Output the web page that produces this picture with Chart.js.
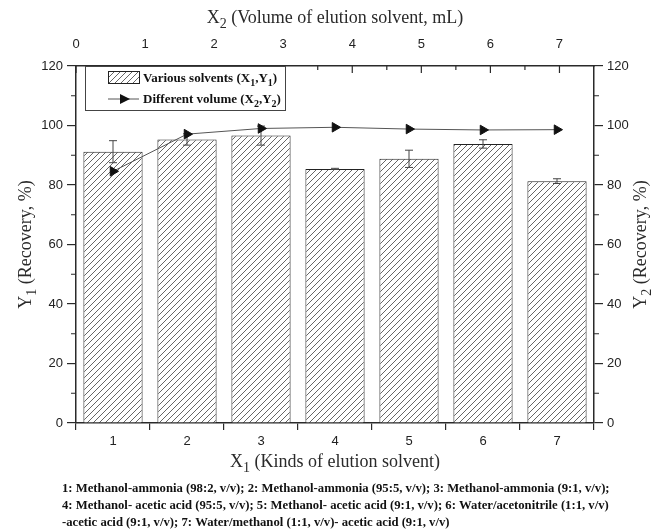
<!DOCTYPE html>
<html>
<head>
<meta charset="utf-8">
<script src="https://cdn.jsdelivr.net/npm/chart.js@4.4.1/dist/chart.umd.min.js"></script>
<style>
  html, body { margin: 0; padding: 0; background: #fff; }
  #recoveryChart { display: block; }
</style>
</head>
<body>
<canvas id="recoveryChart" width="657" height="532"></canvas>
<script>
// Chart data
const solventLabels = ["1", "2", "3", "4", "5", "6", "7"];
const solventRecovery = [91.2, 95.3, 96.6, 85.4, 88.8, 93.8, 81.3];
const solventError = [3.7, 1.9, 3.2, 0.2, 2.9, 1.4, 0.8];
const volumeRecovery = [84.6, 97.1, 99.0, 99.4, 98.8, 98.5, 98.6];
const volumeTicks = [0, 1, 2, 3, 4, 5, 6, 7];
const recoveryMinorTicks = [10, 30, 50, 70, 90, 110];
const volumeMinorTicks = [0.5, 1.5, 2.5, 3.5, 4.5, 5.5, 6.5];
const footnoteLines = [
    "1: Methanol-ammonia (98:2, v/v); 2: Methanol-ammonia (95:5, v/v); 3: Methanol-ammonia (9:1, v/v);",
    "4: Methanol- acetic acid (95:5, v/v); 5: Methanol- acetic acid (9:1, v/v); 6: Water/acetonitrile (1:1, v/v)",
    "-acetic acid (9:1, v/v); 7: Water/methanol (1:1, v/v)- acetic acid (9:1, v/v)"
];

const axisColor = "#2a2a2a";
const tickFont = { family: "Liberation Sans, Arial", size: 13 };

// Diagonal hatch fill for the bars
function makeHatch() {
    const tile = document.createElement("canvas");
    tile.width = 6;
    tile.height = 6;
    const g = tile.getContext("2d");
    g.fillStyle = "#fff";
    g.fillRect(0, 0, 6, 6);
    g.strokeStyle = "#555";
    g.lineWidth = 0.9;
    g.beginPath();
    g.moveTo(0, 6); g.lineTo(6, 0);
    g.moveTo(-3, 3); g.lineTo(3, -3);
    g.moveTo(3, 9); g.lineTo(9, 3);
    g.stroke();
    return g.createPattern(tile, "repeat");
}
const hatch = makeHatch();

// text with "_1" style subscripts, align "left" or "center"
function drawRich(ctx, text, x, y, size, bold, align) {
    const parts = text.split(/(_\d)/).filter(p => p);
    const weight = bold ? "bold " : "";
    const mainFont = weight + size + "px Liberation Serif";
    const subFont = weight + Math.round(size * 0.75) + "px Liberation Serif";
    let total = 0;
    parts.forEach(p => {
        ctx.font = p[0] === "_" ? subFont : mainFont;
        total += ctx.measureText(p[0] === "_" ? p.slice(1) : p).width;
    });
    let cx = align === "center" ? x - total / 2 : x;
    ctx.textAlign = "left";
    parts.forEach(p => {
        if (p[0] === "_") {
            ctx.font = subFont;
            ctx.fillText(p.slice(1), cx, y + size * 0.28);
            cx += ctx.measureText(p.slice(1)).width;
        } else {
            ctx.font = mainFont;
            ctx.fillText(p, cx, y);
            cx += ctx.measureText(p).width;
        }
    });
}

// Error bars on the solvent bars
const errorBars = {
    id: "errorBars",
    afterDatasetDraw(chart, args) {
        if (args.index !== 0) return;
        const ctx = chart.ctx;
        const y = chart.scales.y;
        ctx.save();
        ctx.strokeStyle = "#444";
        ctx.lineWidth = 1;
        args.meta.data.forEach((bar, i) => {
            const top = y.getPixelForValue(solventRecovery[i] + solventError[i]);
            const bot = y.getPixelForValue(solventRecovery[i] - solventError[i]);
            ctx.beginPath();
            ctx.moveTo(bar.x, top); ctx.lineTo(bar.x, bot);
            ctx.moveTo(bar.x - 4, top); ctx.lineTo(bar.x + 4, top);
            ctx.moveTo(bar.x - 4, bot); ctx.lineTo(bar.x + 4, bot);
            ctx.stroke();
        });
        ctx.restore();
    }
};

// Minor ticks, inward top ticks, legend box, axis titles and footnote
const decorations = {
    id: "decorations",
    afterDraw(chart) {
        const ctx = chart.ctx;
        const area = chart.chartArea;
        const y = chart.scales.y;
        const x2 = chart.scales.x2;
        const midX = (area.left + area.right) / 2;
        const midY = (area.top + area.bottom) / 2;
        ctx.save();
        ctx.strokeStyle = axisColor;
        ctx.lineWidth = 1.2;
        ctx.beginPath();
        recoveryMinorTicks.forEach(v => {
            const py = y.getPixelForValue(v);
            ctx.moveTo(area.left - 5, py); ctx.lineTo(area.left, py);
            ctx.moveTo(area.right, py); ctx.lineTo(area.right + 5, py);
        });
        volumeTicks.forEach(v => {
            const px = x2.getPixelForValue(v);
            ctx.moveTo(px, area.top); ctx.lineTo(px, area.top + 7);
        });
        volumeMinorTicks.forEach(v => {
            const px = x2.getPixelForValue(v);
            ctx.moveTo(px, area.top); ctx.lineTo(px, area.top + 4);
        });
        ctx.stroke();

        // legend
        const lx = 85, ly = area.top, lw = 200, lh = 44;
        ctx.fillStyle = "#fff";
        ctx.fillRect(lx, ly, lw, lh);
        ctx.lineWidth = 1;
        ctx.strokeStyle = "#444";
        ctx.strokeRect(lx + 0.5, ly + 0.5, lw, lh);
        ctx.fillStyle = hatch;
        ctx.fillRect(108, ly + 5, 31, 12);
        ctx.strokeStyle = "#222";
        ctx.strokeRect(108.5, ly + 5.5, 31, 12);
        ctx.strokeStyle = "#555";
        ctx.beginPath();
        ctx.moveTo(108, ly + 33); ctx.lineTo(139, ly + 33);
        ctx.stroke();
        ctx.fillStyle = "#111";
        ctx.beginPath();
        ctx.moveTo(120, ly + 28); ctx.lineTo(130, ly + 33); ctx.lineTo(120, ly + 38);
        ctx.closePath();
        ctx.fill();
        ctx.textBaseline = "alphabetic";
        drawRich(ctx, "Various solvents (X_1,Y_1)", 143, ly + 16, 13, true, "left");
        drawRich(ctx, "Different volume (X_2,Y_2)", 143, ly + 37, 13, true, "left");

        // axis titles
        ctx.fillStyle = axisColor;
        drawRich(ctx, "X_2 (Volume of elution solvent, mL)", midX, 23, 18, false, "center");
        drawRich(ctx, "X_1 (Kinds of elution solvent)", midX, 467, 18, false, "center");
        ctx.save();
        ctx.translate(31, midY);
        ctx.rotate(-Math.PI / 2);
        drawRich(ctx, "Y_1 (Recovery, %)", 0, 0, 18, false, "center");
        ctx.restore();
        ctx.save();
        ctx.translate(646, midY);
        ctx.rotate(-Math.PI / 2);
        drawRich(ctx, "Y_2 (Recovery, %)", 0, 0, 18, false, "center");
        ctx.restore();

        // footnote
        ctx.fillStyle = "#111";
        ctx.font = "bold 12.7px Liberation Serif";
        ctx.textAlign = "left";
        ctx.textBaseline = "middle";
        footnoteLines.forEach((line, i) => {
            ctx.fillText(line, 62, 489 + i * 17);
        });
        ctx.restore();
    }
};

const chart = new Chart(document.getElementById("recoveryChart"), {
    type: "bar",
    data: {
        labels: solventLabels,
        datasets: [
            {
                label: "Various solvents (X1,Y1)",
                data: solventRecovery,
                backgroundColor: hatch,
                borderColor: "#222",
                borderWidth: 1,
                barPercentage: 0.8,
                categoryPercentage: 1,
                xAxisID: "x",
                yAxisID: "y",
                order: 2
            },
            {
                type: "line",
                label: "Different volume (X2,Y2)",
                data: volumeRecovery,
                borderColor: "#555",
                borderWidth: 1,
                pointStyle: "triangle",
                pointRotation: 90,
                pointRadius: 5.5,
                pointBackgroundColor: "#111",
                pointBorderColor: "#111",
                tension: 0,
                xAxisID: "x",
                yAxisID: "y2",
                order: 1
            }
        ]
    },
    options: {
        responsive: false,
        animation: false,
        devicePixelRatio: 1,
        layout: { padding: 0 },
        plugins: {
            legend: { display: false },
            tooltip: { enabled: false }
        },
        scales: {
            x: {
                type: "category",
                position: "bottom",
                offset: true,
                grid: { offset: true, drawOnChartArea: false, tickLength: 7, color: axisColor, lineWidth: 1.2 },
                border: { color: axisColor, width: 1.5 },
                ticks: { font: tickFont, color: "#222", padding: 4 },
                afterFit: s => { s.height = 109; }
            },
            x2: {
                type: "linear",
                position: "top",
                offset: false,
                min: 0,
                max: 7.5,
                grid: { offset: false, drawOnChartArea: false, drawTicks: false },
                border: { color: axisColor, width: 1.5 },
                ticks: { font: tickFont, color: "#222", padding: 14 },
                afterBuildTicks: s => { s.ticks = volumeTicks.map(v => ({ value: v })); },
                afterFit: s => { s.height = 66; }
            },
            y: {
                position: "left",
                min: 0,
                max: 120,
                grid: { drawOnChartArea: false, tickLength: 9, color: axisColor, lineWidth: 1.2 },
                border: { color: axisColor, width: 1.5 },
                ticks: { stepSize: 20, font: tickFont, color: "#222", padding: 4 },
                afterFit: s => { s.width = 76; }
            },
            y2: {
                position: "right",
                min: 0,
                max: 120,
                grid: { drawOnChartArea: false, tickLength: 9, color: axisColor, lineWidth: 1.2 },
                border: { color: axisColor, width: 1.5 },
                ticks: { stepSize: 20, font: tickFont, color: "#222", padding: 4 },
                afterFit: s => { s.width = 63; }
            }
        }
    },
    plugins: [errorBars, decorations]
});
</script>
</body>
</html>
